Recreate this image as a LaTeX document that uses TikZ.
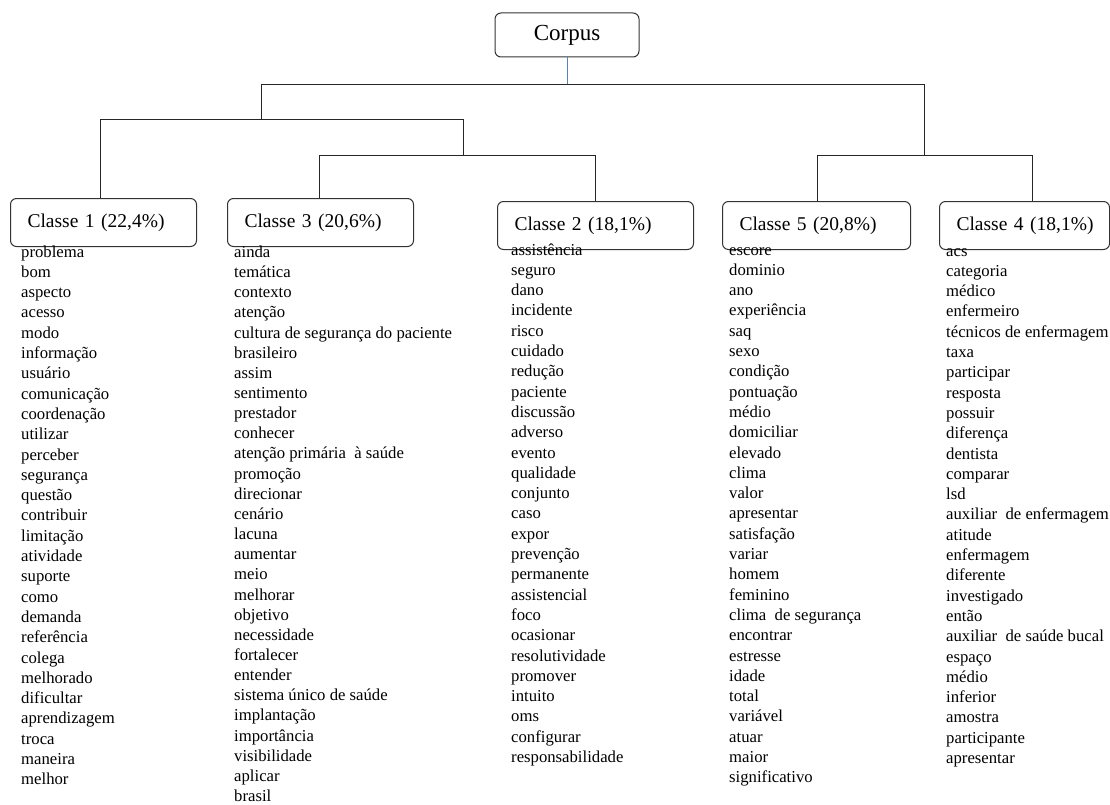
\documentclass[tikz,border=0pt]{standalone}
\usepackage{fontspec}
\setmainfont{Liberation Serif}
\usepackage{tikz}
\definecolor{boxline}{gray}{.2}
\definecolor{stemblue}{RGB}{84,130,186}
\newcommand{\heightbox}{48pt}
\newcommand{\padbox}{17pt}
\newcommand{\wordsize}{\fontsize{16.7}{20.3}\selectfont}
\tikzset{
    common/.style={draw=boxline, line width=1pt, rounded corners=6pt, rectangle},
    root/.style={common, minimum width=144pt, minimum height=44pt, font=\fontsize{23}{26}\selectfont},
    classbox/.style={common, anchor=north west, text width=#1, align=left, inner xsep=\padbox, minimum height=\heightbox, font=\fontsize{19.5}{22}\selectfont},
    words/.style={anchor=base west, align=left, inner sep=0pt, font=\wordsize},
    branch/.style={draw=black!85, line width=1pt}
}

\begin{document}
\begin{tikzpicture}[x=1pt, y=-1pt]
    \useasboundingbox (0,0) rectangle (1110,805);

    \node[root] (corpus) at (567,35) {Corpus};

    \node[classbox=152pt] (classe1) at (10,198) {Classe~1~(22,4\%)};
    \node[classbox=152pt] (classe3) at (227,198) {Classe~3~(20,6\%)};
    \node[classbox=162pt] (classe2) at (497,201) {Classe~2~(18,1\%)};
    \node[classbox=154pt] (classe5) at (722,201) {Classe~5~(20,8\%)};
    \node[classbox=136pt] (classe4) at (939,201) {Classe~4~(18,1\%)};

    \coordinate (stem) at (567,85);
    \coordinate (jl) at (261,85);
    \coordinate (jr) at (924,85);
    \coordinate (l1) at (100,120);
    \coordinate (l2) at (463,120);
    \coordinate (m3) at (319,156);
    \coordinate (m2) at (595,156);
    \coordinate (r5) at (817,156);
    \coordinate (r4) at (1032,156);

    \draw[stemblue, line width=1pt] (corpus) -- (stem);
    \draw[branch] (jl |- l1) -- (jl) -- (jr) -- (jr |- r5);
    \draw[branch] (l1 |- classe1.north) -- (l1) -- (l2) -- (l2 |- m3);
    \draw[branch] (m3 |- classe3.north) -- (m3) -- (m2) -- (m2 |- classe2.north);
    \draw[branch] (r5 |- classe5.north) -- (r5) -- (r4) -- (r4 |- classe4.north);

    \node[words] (words1) at (21,784.8) {problema\\bom\\aspecto\\acesso\\modo\\informação\\usuário\\comunicação\\coordenação\\utilizar\\perceber\\segurança\\questão\\contribuir\\limitação\\atividade\\suporte\\como\\demanda\\referência\\colega\\melhorado\\dificultar\\aprendizagem\\troca\\maneira\\melhor};
    \node[words, font=\fontsize{16.7}{20.15}\selectfont] (words3) at (234,801.5) {ainda\\temática\\contexto\\atenção\\cultura de segurança do paciente\\brasileiro\\assim\\sentimento\\prestador\\conhecer\\atenção primária\ \ à saúde\\promoção\\direcionar\\cenário\\lacuna\\aumentar\\meio\\melhorar\\objetivo\\necessidade\\fortalecer\\entender\\sistema único de saúde\\implantação\\importância\\visibilidade\\aplicar\\brasil};
    \node[words] (words2) at (511,762.5) {assistência\\seguro\\dano\\incidente\\risco\\cuidado\\redução\\paciente\\discussão\\adverso\\evento\\qualidade\\conjunto\\caso\\expor\\prevenção\\permanente\\assistencial\\foco\\ocasionar\\resolutividade\\promover\\intuito\\oms\\configurar\\responsabilidade};
    \node[words] (words5) at (729,782.8) {escore\\dominio\\ano\\experiência\\saq\\sexo\\condição\\pontuação\\médio\\domiciliar\\elevado\\clima\\valor\\apresentar\\satisfação\\variar\\homem\\feminino\\clima\ \ de segurança\\encontrar\\estresse\\idade\\total\\variável\\atuar\\maior\\significativo};
    \node[words] (words4) at (946,763.5) {acs\\categoria\\médico\\enfermeiro\\técnicos de enfermagem\\taxa\\participar\\resposta\\possuir\\diferença\\dentista\\comparar\\lsd\\auxiliar\ \ de enfermagem\\atitude\\enfermagem\\diferente\\investigado\\então\\auxiliar\ \ de saúde bucal\\espaço\\médio\\inferior\\amostra\\participante\\apresentar};
\end{tikzpicture}
\end{document}
